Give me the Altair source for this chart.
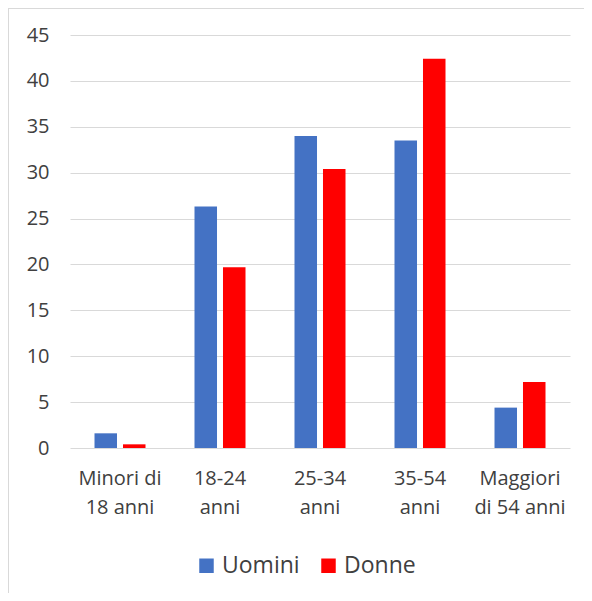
import altair as alt
import pandas as pd

categories = ["Minori di\n18 anni", "18-24\nanni", "25-34\nanni", "35-54\nanni", "Maggiori\ndi 54 anni"]
series = ["Uomini", "Donne"]
uomini = [1.6, 26.3, 34.0, 33.5, 4.4]
donne = [0.4, 19.7, 30.4, 42.4, 7.2]
y_ticks = [0, 5, 10, 15, 20, 25, 30, 35, 40, 45]
colors = ["#4472C4", "#FF0000"]

rows = []
for c, u, d in zip(categories, uomini, donne):
    rows.append({"cat": c, "sesso": "Uomini", "val": u})
    rows.append({"cat": c, "sesso": "Donne", "val": d})
df = pd.DataFrame(rows)

FONT = "Open Sans"
TXT = "#404040"

bars = alt.Chart(df).mark_bar().encode(
    x=alt.X("cat:N", sort=categories, title=None,
            scale=alt.Scale(paddingInner=0.49, paddingOuter=0.245),
            axis=alt.Axis(labelAngle=0, domain=False, ticks=False, grid=False,
                          labelExpr="split(datum.label, '\\n')",
                          labelLineHeight=29, labelPadding=20,
                          labelFontSize=20, labelFont=FONT, labelColor=TXT,
                          labelBaseline="top")),
    xOffset=alt.XOffset("sesso:N", sort=series,
                        scale=alt.Scale(paddingInner=0.21, paddingOuter=0)),
    y=alt.Y("val:Q", title=None,
            scale=alt.Scale(domain=[0, 45], nice=False),
            axis=alt.Axis(values=y_ticks, domain=False, ticks=False,
                          gridColor="#d9d9d9", gridWidth=1,
                          labelPadding=21, labelFontSize=20, labelFont=FONT,
                          labelColor=TXT)),
    color=alt.Color("sesso:N", sort=series,
                    scale=alt.Scale(domain=series, range=colors),
                    legend=alt.Legend(title=None, orient="none", direction="horizontal",
                                      legendX=125, legendY=519, padding=0,
                                      symbolType="square", symbolSize=210,
                                      symbolStrokeWidth=0, symbolOpacity=1,
                                      labelFontSize=23, labelFont=FONT,
                                      labelColor=TXT, labelOffset=4,
                                      columnPadding=17)),
)

frame_top = alt.Chart(df).mark_rule(color="#d9d9d9", strokeWidth=1).encode(
    x=alt.value(-61.5), x2=alt.value(520), y=alt.value(-26.5)
)
frame_left = alt.Chart(df).mark_rule(color="#d9d9d9", strokeWidth=1).encode(
    x=alt.value(-61.5), y=alt.value(-26.5), y2=alt.value(580)
)

chart = alt.layer(frame_top, frame_left, bars).properties(
    width=500, height=413,
    padding={"left": 62, "top": 27, "right": 14, "bottom": 145},
    autosize=alt.AutoSizeParams(type="none"),
).configure_view(stroke=None)

chart.save("out.html", embed_options={"renderer": "svg", "actions": False})
